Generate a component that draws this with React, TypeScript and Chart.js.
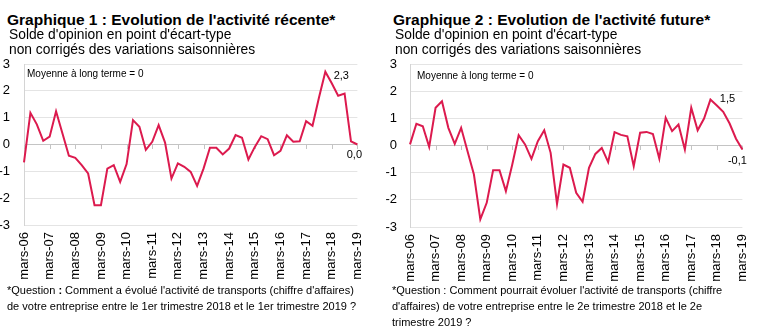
import React, { useEffect, useRef } from 'react';
import { Chart, registerables } from 'chart.js';

Chart.register(...registerables);

const years = ['06', '07', '08', '09', '10', '11', '12', '13', '14', '15', '16', '17', '18', '19'];
const months = ['mars', 'juin', 'sept', 'déc'];
const categories: string[] = [];
years.forEach((y, yi) => {
  months.forEach((m, mi) => {
    if (yi === years.length - 1 && mi > 0) return;
    categories.push(m + '-' + y);
  });
});

const recentValues = [
  -0.67, 1.18, 0.75, 0.14, 0.29, 1.24, 0.41, -0.42, -0.5, -0.77,
  -1.08, -2.26, -2.26, -0.9, -0.77, -1.39, -0.73, 0.91, 0.66, -0.2,
  0.1, 0.72, 0.07, -1.27, -0.7, -0.83, -1.02, -1.54, -0.9, -0.12,
  -0.12, -0.37, -0.15, 0.35, 0.25, -0.56, -0.09, 0.31, 0.2, -0.4,
  -0.24, 0.34, 0.1, 0.12, 0.87, 0.7, 1.74, 2.71, 2.28, 1.82,
  1.9, 0.12, 0.0,
];

const futureValues = [
  0.04, 0.8, 0.71, -0.05, 1.39, 1.63, 0.65, 0.06, 0.65, -0.21,
  -1.07, -2.72, -2.11, -0.91, -0.91, -1.68, -0.7, 0.38, 0.04, -0.49,
  0.16, 0.56, -0.27, -2.15, -0.7, -0.82, -1.74, -2.07, -0.82, -0.31,
  -0.09, -0.61, 0.49, 0.39, 0.34, -0.76, 0.47, 0.5, 0.42, -0.48,
  1.02, 0.53, 0.77, -0.15, 1.39, 0.56, 0.99, 1.69, 1.47, 1.24,
  0.81, 0.25, -0.15,
];

const recentLabels = [
  { index: 47, text: '2,3', dx: 16, dy: 4 },
  { index: 52, text: '0,0', dx: -3, dy: 10 },
];
const futureLabels = [
  { index: 47, text: '1,5', dx: 17, dy: -1 },
  { index: 52, text: '-0,1', dx: -5, dy: 11 },
];

const FONT = "Arial, 'Liberation Sans', sans-serif";
const LINE_COLOR = '#DC1A4E';

const decorPlugin = {
  id: 'decor',
  beforeDatasetsDraw(chart: any) {
    const { ctx, scales } = chart;
    const x = scales.x;
    const y = scales.y;
    const y0 = y.getPixelForValue(0);
    ctx.save();
    ctx.strokeStyle = '#c4c4c4';
    ctx.lineWidth = 1;
    for (let i = 0; i < categories.length; i += 4) {
      const px = Math.round(x.getPixelForValue(i)) + 0.5;
      ctx.beginPath();
      ctx.moveTo(px, Math.round(y0));
      ctx.lineTo(px, Math.round(y0) + 4);
      ctx.stroke();
    }
    ctx.restore();
  },
  afterDatasetsDraw(chart: any, _args: any, opts: any) {
    const { ctx, scales } = chart;
    const x = scales.x;
    const y = scales.y;
    const data = chart.data.datasets[0].data as number[];
    ctx.save();
    ctx.fillStyle = '#000';
    ctx.font = '11px ' + FONT;
    ctx.textAlign = 'center';
    ctx.textBaseline = 'middle';
    (opts.labels || []).forEach((l: any) => {
      const px = x.getPixelForValue(l.index);
      const py = y.getPixelForValue(data[l.index]);
      ctx.fillText(l.text, px + l.dx, py + l.dy);
    });
    ctx.restore();
  },
};

type ChartProps = {
  values: number[];
  labels: { index: number; text: string; dx: number; dy: number }[];
  left: number;
  yWidth: number;
  xHeight: number;
  yGap: number;
};

function LineChart({ values, labels, left, yWidth, xHeight, yGap }: ChartProps) {
  const ref = useRef<HTMLCanvasElement>(null);
  useEffect(() => {
    if (!ref.current) return;
    const chart = new Chart(ref.current, {
      type: 'line',
      data: {
        labels: categories,
        datasets: [
          {
            data: values,
            borderColor: LINE_COLOR,
            borderWidth: 2,
            pointRadius: 0,
            tension: 0,
            fill: false,
          },
        ],
      },
      options: {
        animation: false,
        responsive: false,
        maintainAspectRatio: false,
        layout: { padding: { top: 14, right: 18, left: 0, bottom: 0 } },
        plugins: {
          legend: { display: false },
          tooltip: { enabled: false },
          decor: { labels },
        } as any,
        scales: {
          x: {
            type: 'category',
            offset: false,
            grid: { display: false, drawTicks: false },
            border: { display: false },
            ticks: {
              autoSkip: false,
              maxRotation: 90,
              minRotation: 90,
              padding: 7,
              color: '#000',
              font: { family: FONT, size: 13 },
              callback: (_v: any, i: number) => (i % 4 === 0 ? categories[i] : ''),
            },
            afterFit: (s: any) => {
              s.height = xHeight;
            },
          },
          y: {
            min: -3,
            max: 3,
            ticks: {
              stepSize: 1,
              padding: 0,
              color: '#000',
              font: { family: FONT, size: 13 },
            },
            grid: {
              drawTicks: true,
              tickLength: yGap,
              tickColor: 'rgba(0,0,0,0)',
              color: (c: any) => (c.tick && c.tick.value === 0 ? '#c4c4c4' : '#e4e4e4'),
              lineWidth: 1,
            },
            border: { display: true, color: '#d4d4d4', width: 1 },
            afterFit: (s: any) => {
              s.width = yWidth;
            },
          },
        },
      },
      plugins: [decorPlugin],
    } as any);
    return () => chart.destroy();
  }, []);
  return (
    <canvas
      ref={ref}
      width={380}
      height={240}
      style={{ position: 'absolute', left, top: 50, width: 380, height: 240 }}
    />
  );
}

const textBase: React.CSSProperties = {
  position: 'absolute',
  fontFamily: FONT,
  color: '#000',
  whiteSpace: 'pre',
  margin: 0,
};

export default function App() {
  return (
    <div
      style={{
        position: 'absolute',
        left: 0,
        top: 0,
        width: 766,
        height: 329,
        background: '#fff',
        overflow: 'hidden',
      }}
    >
      <LineChart values={recentValues} labels={recentLabels} left={0} yWidth={24} xHeight={65} yGap={14} />
      <LineChart values={futureValues} labels={futureLabels} left={385} yWidth={25} xHeight={63} yGap={13} />

      <div style={{ ...textBase, left: 7, top: 11, fontSize: 15.5, fontWeight: 'bold', lineHeight: '18px' }}>
        Graphique 1 : Evolution de l'activité récente*
      </div>
      <div style={{ ...textBase, left: 9, top: 27, fontSize: 13.8, lineHeight: '15px' }}>
        {"Solde d'opinion en point d'écart-type\nnon corrigés des variations saisonnières"}
      </div>
      <div style={{ ...textBase, left: 27, top: 68, fontSize: 10, lineHeight: '12px' }}>
        Moyenne à long terme = 0
      </div>
      <div style={{ ...textBase, left: 7, top: 282, fontSize: 11, lineHeight: '16px' }}>
        <span>*Question </span>
        <b>:</b>
        <span>{" Comment a évolué l'activité de transports (chiffre d'affaires)\nde votre entreprise entre le 1er trimestre 2018 et le 1er trimestre 2019 ?"}</span>
      </div>

      <div style={{ ...textBase, left: 393, top: 11, fontSize: 15.5, fontWeight: 'bold', lineHeight: '18px' }}>
        Graphique 2 : Evolution de l'activité future*
      </div>
      <div style={{ ...textBase, left: 395, top: 27, fontSize: 13.8, lineHeight: '15px' }}>
        {"Solde d'opinion en point d'écart-type\nnon corrigés des variations saisonnières"}
      </div>
      <div style={{ ...textBase, left: 417, top: 70, fontSize: 10, lineHeight: '12px' }}>
        Moyenne à long terme = 0
      </div>
      <div style={{ ...textBase, left: 392, top: 282, fontSize: 11, lineHeight: '16px' }}>
        {"*Question : Comment pourrait évoluer l'activité de transports (chiffre\nd'affaires) de votre entreprise entre le 2e trimestre 2018 et le 2e\ntrimestre 2019 ?"}
      </div>
    </div>
  );
}
